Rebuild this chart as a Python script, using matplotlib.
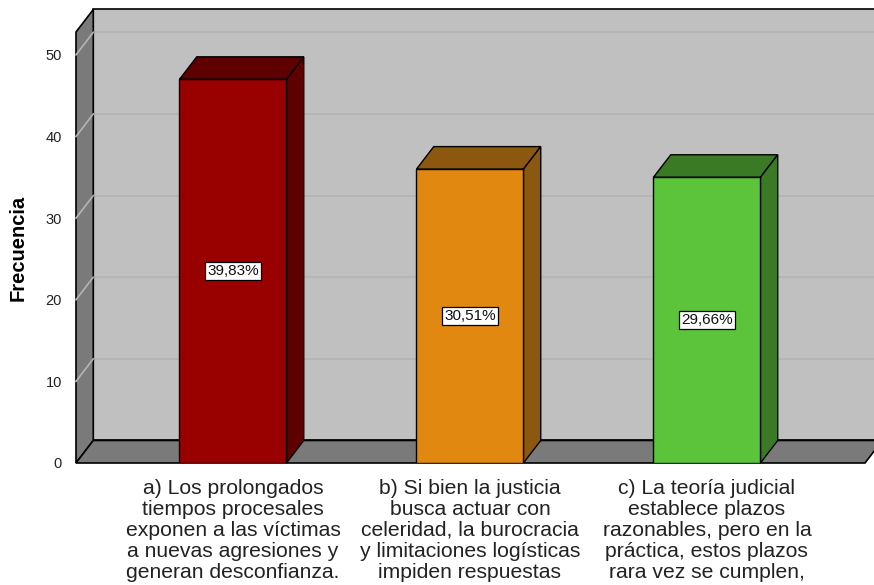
import numpy as np
import matplotlib.pyplot as plt
from matplotlib.patches import Polygon

plt.rcParams['font.family'] = ['Liberation Sans', 'DejaVu Sans']

categories = [
    "a) Los prolongados\ntiempos procesales\nexponen a las víctimas\na nuevas agresiones y\ngeneran desconfianza.",
    "b) Si bien la justicia\nbusca actuar con\nceleridad, la burocracia\ny limitaciones logísticas\nimpiden respuestas",
    "c) La teoría judicial\nestablece plazos\nrazonables, pero en la\npráctica, estos plazos\nrara vez se cumplen,",
]
counts = [47, 36, 35]
pct_labels = ["39,83%", "30,51%", "29,66%"]
front_colors = ["#990000", "#e0880f", "#5cc43a"]
dark_colors = ["#5e0000", "#8c570e", "#3b7a24"]
yticks = [0, 10, 20, 30, 40, 50]

fig = plt.figure(figsize=(8.74, 5.85), dpi=100)
W, H = 874, 585
x_left, x_right = 76, 865
y_zero, y_top = 463, 32
ax = fig.add_axes([x_left / W, (H - y_zero) / H, (x_right - x_left) / W, (y_zero - y_top) / H])

x0, x1 = -0.6624, 2.667
ymax = 52.8
ax.set_xlim(x0, x1)
ax.set_ylim(0, ymax)
dx, dy = 0.073, 2.76
bw = 0.4515

# walls and floor
ax.add_patch(Polygon([(x0 + dx, dy), (x1 + dx, dy), (x1 + dx, ymax + dy), (x0 + dx, ymax + dy)],
                     closed=True, facecolor="#c0c0c0", edgecolor="black", lw=1.2, clip_on=False, zorder=0))
ax.add_patch(Polygon([(x0, 0), (x0 + dx, dy), (x0 + dx, ymax + dy), (x0, ymax)],
                     closed=True, facecolor="#7a7a7a", edgecolor="black", lw=1.2, clip_on=False, zorder=1))
ax.add_patch(Polygon([(x0, 0), (x1, 0), (x1 + dx, dy), (x0 + dx, dy)],
                     closed=True, facecolor="#7a7a7a", edgecolor="black", lw=1.2, clip_on=False, zorder=1))

for t in yticks[1:]:
    ax.plot([x0 + dx, x1 + dx], [t + dy, t + dy], color="#b3b3b3", lw=1.2, clip_on=False, zorder=0.5)
    ax.plot([x0, x0 + dx], [t, t + dy], color="#b4b4b4", lw=1.2, clip_on=False, zorder=1.5)

xs = np.arange(len(counts))
ax.bar(xs, counts, width=bw, color=front_colors, edgecolor="black", lw=1, zorder=4)
for x, v, dc, lab in zip(xs, counts, dark_colors, pct_labels):
    l, r = x - bw / 2, x + bw / 2
    ax.add_patch(Polygon([(l, v), (r, v), (r + dx, v + dy), (l + dx, v + dy)],
                         closed=True, facecolor=dc, edgecolor="black", lw=1, clip_on=False, zorder=3))
    ax.add_patch(Polygon([(r, 0), (r + dx, dy), (r + dx, v + dy), (r, v)],
                         closed=True, facecolor=dc, edgecolor="black", lw=1, clip_on=False, zorder=3))
    ax.text(x, v / 2, lab, ha="center", va="center", fontsize=11, zorder=5, color="#111111",
            bbox=dict(boxstyle="square,pad=0.12", facecolor="white", edgecolor="black", lw=0.9))

for x, c in zip(xs, categories):
    ax.text(x, -1.9, c, ha="center", va="top", fontsize=15.2, color="#222222",
            linespacing=1.14, clip_on=False)

ax.set_yticks(yticks)
ax.set_yticklabels([str(t) for t in yticks], fontsize=10.5, color="#222222")
ax.tick_params(axis="y", length=0, pad=10)
ax.set_xticks([])
for s in ax.spines.values():
    s.set_visible(False)
ax.patch.set_visible(False)
ax.set_ylabel("Frecuencia", fontsize=14.5, fontweight="bold", labelpad=13)

fig.savefig("out.png", dpi=100)
